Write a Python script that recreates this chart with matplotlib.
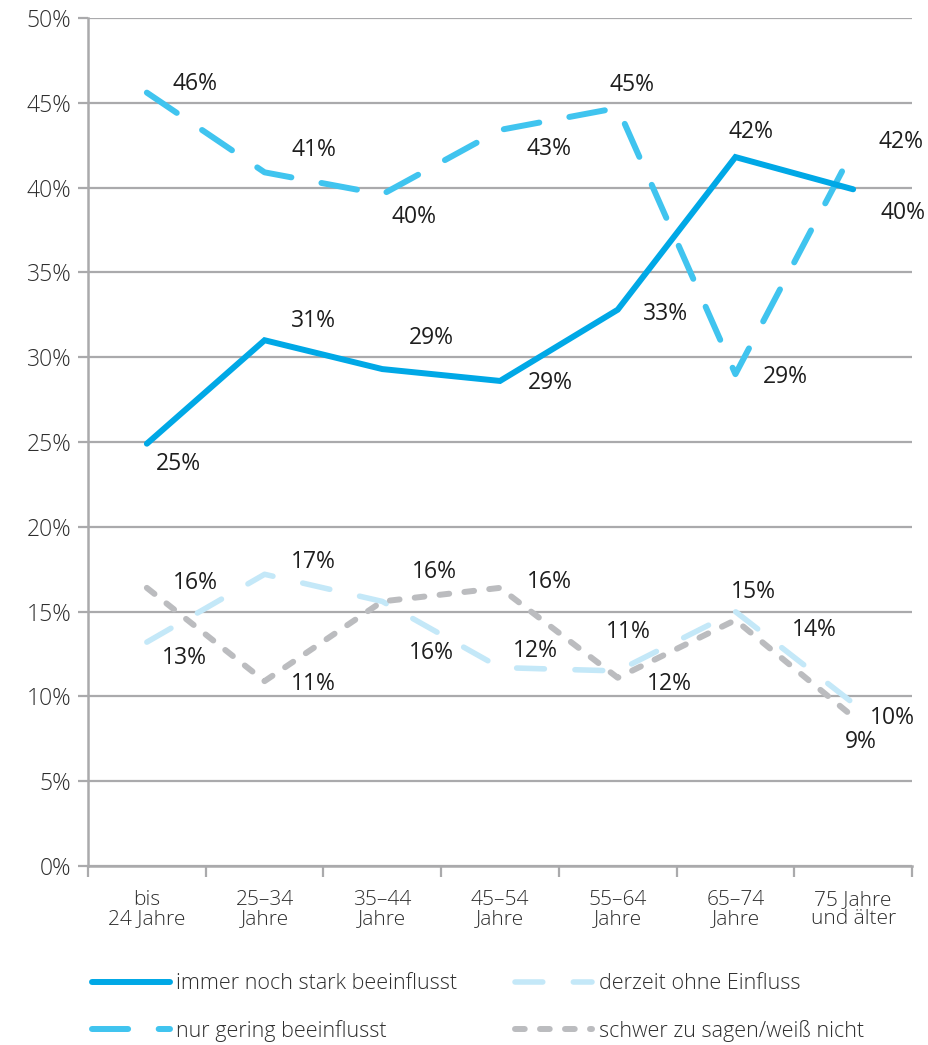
import matplotlib
matplotlib.use("Agg")
import matplotlib.pyplot as plt
import numpy as np

plt.rcParams['font.family'] = ['Open Sans', 'DejaVu Sans']
plt.rcParams['font.weight'] = 'light'
plt.rcParams['lines.scale_dashes'] = False

categories = ["bis\n24 Jahre", "25–34\nJahre", "35–44\nJahre", "45–54\nJahre",
              "55–64\nJahre", "65–74\nJahre", "75 Jahre\nund älter"]
series_names = ["immer noch stark beeinflusst", "nur gering beeinflusst",
                "derzeit ohne Einfluss", "schwer zu sagen/weiß nicht"]
stark = [24.9, 31.0, 29.3, 28.6, 32.8, 41.8, 39.9]
gering = [45.6, 40.9, 39.6, 43.4, 44.7, 29.0, 42.2]
ohne = [13.2, 17.2, 15.6, 11.7, 11.5, 15.0, 9.6]
schwer = [16.4, 10.9, 15.6, 16.4, 11.1, 14.5, 8.8]
labels_stark = ["25%", "31%", "29%", "29%", "33%", "42%", "40%"]
labels_gering = ["46%", "41%", "40%", "43%", "45%", "29%", "42%"]
labels_ohne = ["13%", "17%", "16%", "12%", "11%", "15%", "10%"]
labels_schwer = ["16%", "11%", "16%", "16%", "12%", "14%", "9%"]

# label offsets in pixels (dx right, dy up)
off_stark = [(32, -20), (49, 19), (49, 31), (50, -2), (48, -4), (16, 25), (50, -24)]
off_gering = [(48, 9), (49, 22), (32, -23), (49, -19), (14, 23), (50, -3), (48, 8)]
off_ohne = [(38, -16), (49, 12), (49, -52), (35, 17), (11, 39), (18, 20), (39, -15)]
off_schwer = [(49, 5), (49, -3), (52, 29), (49, 6), (52, -6), (79, -10), (8, -25)]

fig = plt.figure(figsize=(9.29, 10.45), dpi=100)
ax = fig.add_axes([88/929, 1-866/1045, (912-88)/929, (866-18)/1045])

x = np.arange(len(categories))
c_stark = "#00a8e6"
c_gering = "#40c4ef"
c_ohne = "#c4e8f8"
c_gray = "#bbbcbf"

l_ohne, = ax.plot(x, ohne, color=c_ohne, lw=4.0, solid_capstyle='round',
                  dash_capstyle='round', zorder=3)
l_ohne.set_dashes((20, 22))
l_schwer, = ax.plot(x, schwer, color=c_gray, lw=4.3, dash_capstyle='round', zorder=3)
l_schwer.set_dashes((7, 11))
l_gering, = ax.plot(x, gering, color=c_gering, lw=4.3, dash_capstyle='round', zorder=3)
l_gering.set_dashes((26, 22))
l_stark, = ax.plot(x, stark, color=c_stark, lw=4.3, solid_capstyle='round',
                   solid_joinstyle='miter', zorder=4)

txt_kw = dict(fontsize=16.5, color="#1e1e1e", ha='center', va='center',
              fontweight='normal', textcoords='offset pixels', zorder=5)
for vals, labs, offs in [(stark, labels_stark, off_stark),
                         (gering, labels_gering, off_gering),
                         (ohne, labels_ohne, off_ohne),
                         (schwer, labels_schwer, off_schwer)]:
    for xi, v, lab, o in zip(x, vals, labs, offs):
        ax.annotate(lab, (xi, v), xytext=o, **txt_kw)

ax.set_xlim(-0.5, 6.5)
ax.set_ylim(0, 50)
ax.set_yticks(np.arange(0, 51, 5))
ax.set_yticklabels([f"{v}%" for v in range(0, 51, 5)])
ax.grid(axis='y', color="#aaaaac", lw=1.6, zorder=1)
for s in ['top', 'right']:
    ax.spines[s].set_visible(False)
for s in ['left', 'bottom']:
    ax.spines[s].set_color("#aaaaac")
    ax.spines[s].set_linewidth(1.8)
ax.tick_params(axis='y', length=7, width=1.6, color="#aaaaac", labelsize=16.5,
               labelcolor="#2e2e2e", pad=5)
ax.set_xticks(np.arange(-0.5, 7, 1))
ax.set_xticklabels([])
ax.tick_params(axis='x', length=8, width=1.6, color="#aaaaac")
ax.set_xticks(x, minor=True)
ax.set_xticklabels(categories, minor=True, fontsize=15, color="#2e2e2e",
                   linespacing=0.95)
ax.tick_params(axis='x', which='minor', length=0, pad=17)

leg_kw = dict(loc='center left', frameon=False, fontsize=15.5, handlelength=3.6,
              handletextpad=0.3, labelspacing=1.2, borderpad=0, borderaxespad=0,
              labelcolor="#2e2e2e")
leg1 = fig.legend([l_stark, l_gering], series_names[:2],
                  bbox_to_anchor=(92/929, 1-1007.5/1045), **leg_kw)
leg2 = fig.legend([l_ohne, l_schwer], series_names[2:],
                  bbox_to_anchor=(515/929, 1-1007.5/1045), **leg_kw)

fig.savefig("out.png", dpi=100)
